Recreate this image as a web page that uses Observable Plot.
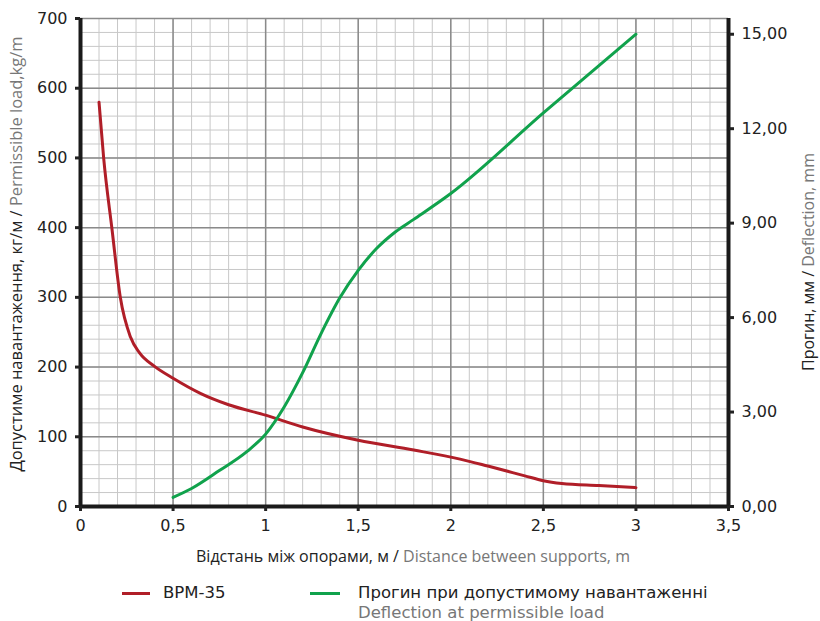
<!DOCTYPE html>
<html><head><meta charset="utf-8">
<script src="https://cdn.jsdelivr.net/npm/d3@7"></script>
<script src="https://cdn.jsdelivr.net/npm/@observablehq/plot@0.6"></script>
<style>
body{margin:0;background:#fff;}
#wrap{position:relative;width:820px;height:621px;font-family:"DejaVu Sans",sans-serif;}
.leg{position:absolute;font-size:16.5px;color:#222;white-space:nowrap;line-height:20px;}
.sw{position:absolute;height:3px;}
</style></head>
<body><div id="wrap"></div>
<script>
// Distance between supports, m
const loadX = [0.1,0.125,0.17,0.215,0.27,0.32,0.4,0.5,0.65,0.8,1.0,1.2,1.5,1.8,2.05,2.2,2.4,2.5,2.6,2.8,3.0];
// Permissible load, kg/m (BPM-35)
const loadY = [580,500,398,300,243,220,201,184,162,146,131,114,95,81,68,58,44,37,33,30,27];
const defX = [0.5,0.6,0.75,0.9,1.0,1.1,1.2,1.3,1.4,1.5,1.6,1.7,1.8,2.0,2.5,3.0];
// Deflection, mm
const defY = [0.29,0.57,1.14,1.75,2.3,3.16,4.25,5.5,6.62,7.5,8.2,8.72,9.12,9.94,12.5,15.0];
const xTicks = [0,0.5,1,1.5,2,2.5,3,3.5];
const xTickLabels = ["0","0,5","1","1,5","2","2,5","3","3,5"];
const yTicks = [0,100,200,300,400,500,600,700];
const rTicks = [0,3,6,9,12,15];
const rTickLabels = ["0,00","3,00","6,00","9,00","12,00","15,00"];
const xMinor = [0,0.1,0.2,0.3,0.4,0.5,0.6,0.7,0.8,0.9,1,1.1,1.2,1.3,1.4,1.5,1.6,1.7,1.8,1.9,2,2.1,2.2,2.3,2.4,2.5,2.6,2.7,2.8,2.9,3,3.1,3.2,3.3,3.4];
const yMinor = [0,20,40,60,80,100,120,140,160,180,200,220,240,260,280,300,320,340,360,380,400,420,440,460,480,500,520,540,560,580,600,620,640,660,680,700];

const K = 700/15.5; // mm -> kg/m scale
const loadData = loadX.map((x,i)=>({x, y: loadY[i]}));
const defData = defX.map((x,i)=>({x, y: defY[i]*K}));

const svg = Plot.plot({
  width: 820, height: 570,
  marginLeft: 80, marginRight: 92, marginTop: 18, marginBottom: 64,
  style: {fontFamily: "DejaVu Sans", fontSize: "16px", color: "#222", background: "#fff"},
  x: {domain: [0,3.5]},
  y: {domain: [0,700]},
  marks: [
    Plot.ruleX(xMinor, {stroke: "#c8c8c8", strokeWidth: 1}),
    Plot.ruleY(yMinor, {stroke: "#c8c8c8", strokeWidth: 1}),
    Plot.ruleX(xTicks, {stroke: "#8a8a8a", strokeWidth: 1.5}),
    Plot.ruleY(yTicks, {stroke: "#8a8a8a", strokeWidth: 1.5}),
    Plot.line(loadData, {x: "x", y: "y", curve: "monotone-x", stroke: "#b01e28", strokeWidth: 3}),
    Plot.line(defData, {x: "x", y: "y", curve: "monotone-x", stroke: "#10a24c", strokeWidth: 3}),
    Plot.ruleX([0, 3.5], {stroke: "#1a1a1a", strokeWidth: 4}),
    Plot.ruleY([0], {stroke: "#1a1a1a", strokeWidth: 4}),
    Plot.axisX(xTicks, {anchor: "bottom", label: null, tickSize: 5, strokeWidth: 3, tickPadding: 8,
      tickFormat: (d,i) => xTickLabels[i], fill: "#222"}),
    Plot.axisY(yTicks, {anchor: "left", label: null, tickSize: 5, strokeWidth: 3, tickPadding: 8, fill: "#222"}),
    Plot.axisY(rTicks.map(v => v*K), {anchor: "right", label: null, tickSize: 5, strokeWidth: 3, tickPadding: 8,
      tickFormat: (d,i) => rTickLabels[i], fill: "#222"})
  ]
});

const s = d3.select(svg);
function title(x, y, rot, black, gray, size) {
  const t = s.append("text")
    .attr("transform", `translate(${x},${y}) rotate(${rot})`)
    .attr("text-anchor", "middle")
    .style("font-family", "'Open Sans', sans-serif")
    .style("font-size", size);
  t.append("tspan").attr("fill", "#222").text(black);
  t.append("tspan").attr("fill", "#777").text(gray);
}
title(413, 562, 0, "Відстань між опорами, м / ", "Distance between supports, m", "16px");
title(22, 254, -90, "Допустиме навантаження, кг/м / ", "Permissible load,kg/m", "16.5px");
title(814, 262, -90, "Прогин, мм / ", "Deflection, mm", "16px");

const wrap = document.getElementById("wrap");
wrap.appendChild(svg);
wrap.insertAdjacentHTML("beforeend", `
  <div class="sw" style="left:122px;top:592px;width:28px;background:#b01e28"></div>
  <div class="leg" style="left:163px;top:583px;">BPM-35</div>
  <div class="sw" style="left:310px;top:592px;width:30px;background:#10a24c"></div>
  <div class="leg" style="left:358px;top:583px;">Прогин при допустимому навантаженні</div>
  <div class="leg" style="left:358px;top:603px;color:#777">Deflection at permissible load</div>
`);
</script></body></html>
